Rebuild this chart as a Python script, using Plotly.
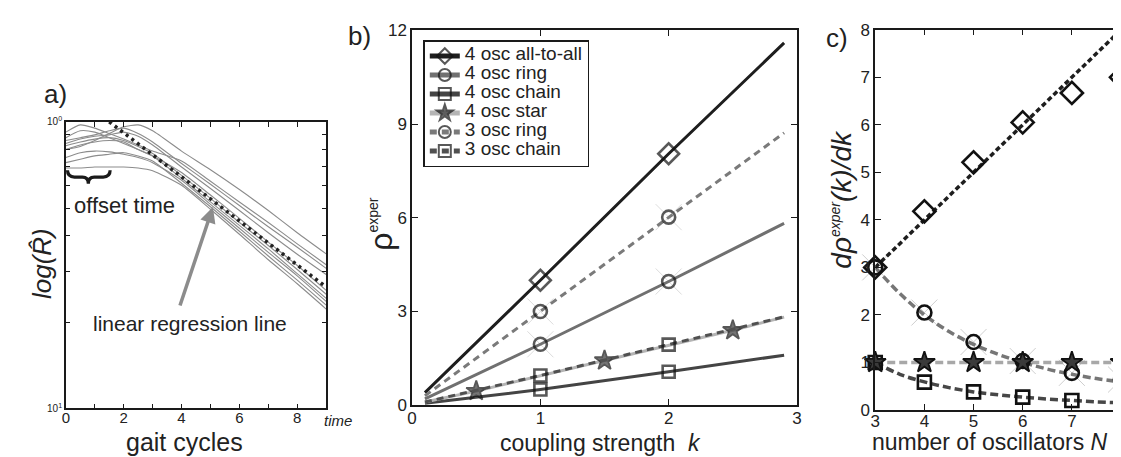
import plotly.graph_objects as go

W, H = 1121, 457
FONT = "Liberation Sans, Arial, sans-serif"
INK = "#1a1a1a"


def px(x):
    return x / W


def py(y):
    return 1 - y / H


# ---------------- panel a: decay of order parameter ----------------
gait_t = [0, 0.5, 1, 1.5, 2, 2.5, 3, 4, 5, 6, 7, 8, 9]
R_1 = [0.80, 0.82, 0.86, 0.91, 0.96, 0.975, 0.93, 0.79, 0.68, 0.58, 0.49, 0.41, 0.346]
R_2 = [0.92, 0.975, 0.95, 0.91, 0.87, 0.83, 0.79, 0.73, 0.62, 0.525, 0.445, 0.375, 0.317]
R_3 = [0.86, 0.88, 0.90, 0.93, 0.95, 0.91, 0.85, 0.715, 0.605, 0.51, 0.43, 0.365, 0.308]
R_4 = [0.84, 0.87, 0.89, 0.90, 0.92, 0.89, 0.83, 0.695, 0.585, 0.49, 0.41, 0.345, 0.293]
R_5 = [0.88, 0.93, 0.92, 0.88, 0.84, 0.80, 0.76, 0.665, 0.555, 0.46, 0.38, 0.315, 0.258]
R_6 = [0.825, 0.85, 0.87, 0.88, 0.86, 0.82, 0.775, 0.65, 0.54, 0.445, 0.37, 0.305, 0.250]
R_7 = [0.80, 0.83, 0.85, 0.86, 0.85, 0.80, 0.76, 0.635, 0.525, 0.435, 0.36, 0.295, 0.242]
R_8 = [0.75, 0.78, 0.79, 0.785, 0.77, 0.75, 0.72, 0.625, 0.515, 0.425, 0.35, 0.29, 0.236]
R_9 = [0.72, 0.74, 0.76, 0.77, 0.78, 0.76, 0.73, 0.61, 0.505, 0.415, 0.34, 0.28, 0.229]
R_10 = [0.69, 0.69, 0.695, 0.695, 0.695, 0.69, 0.675, 0.60, 0.495, 0.405, 0.33, 0.272, 0.222]
R_curves = [R_1, R_2, R_3, R_4, R_5, R_6, R_7, R_8, R_9, R_10]
reg_t = [1.5, 9]
reg_R = [1.0, 0.265]
a_xticks = [0, 1, 2, 3, 4, 5, 6, 7, 8, 9]
a_xlabels = ["0", "", "2", "", "4", "", "6", "", "8", ""]
a_yticks = [0.1, 0.2, 0.3, 0.4, 0.5, 0.6, 0.7, 0.8, 0.9, 1.0]
a_ylabels = ["10<sup>1</sup>", "", "", "", "", "", "", "", "", "10<sup>0</sup>"]

# ---------------- panel b: rho vs coupling strength ----------------
k_aa4 = [0.1, 1, 2, 2.9]
rho_aa4 = [0.4, 4.0, 8.05, 11.6]
k_ring4 = [0.1, 1, 2, 2.9]
rho_ring4 = [0.2, 1.95, 3.96, 5.82]
k_chain4 = [0.1, 1, 2, 2.9]
rho_chain4 = [0.06, 0.5, 1.07, 1.6]
k_star4 = [0.1, 0.5, 1.5, 2.5, 2.9]
rho_star4 = [0.1, 0.45, 1.43, 2.4, 2.82]
k_ring3 = [0.1, 1, 2, 2.9]
rho_ring3 = [0.3, 3.0, 6.02, 8.72]
k_chain3 = [0.1, 1, 2, 2.9]
rho_chain3 = [0.1, 0.95, 1.94, 2.83]
series_names = ["4 osc all-to-all", "4 osc ring", "4 osc chain",
                "4 osc star", "3 osc ring", "3 osc chain"]

# ---------------- panel c: slope vs number of oscillators ----------------
N_osc = [3, 4, 5, 6, 7, 8]
slope_aa = [3.0, 4.18, 5.21, 6.05, 6.67, 7.0]
slope_ring = [3.0, 2.05, 1.43, 1.03, 0.78, 0.64]
slope_star = [1.0, 1.0, 1.0, 1.0, 1.0, 1.0]
slope_chain = [1.0, 0.585, 0.38, 0.27, 0.2, 0.15]
N_theory = [3, 3.5, 4, 4.5, 5, 5.5, 6, 6.5, 7, 7.5, 8]
theory_aa = [3, 3.5, 4, 4.5, 5, 5.5, 6, 6.5, 7, 7.5, 8]
theory_ring = [3.0, 2.45, 2.0, 1.65, 1.38, 1.17, 1.0, 0.86, 0.75, 0.66, 0.59]
theory_star = [1, 1, 1, 1, 1, 1, 1, 1, 1, 1, 1]
theory_chain = [1.0, 0.75, 0.59, 0.47, 0.38, 0.32, 0.27, 0.23, 0.2, 0.17, 0.15]

fig = go.Figure()

# ---- panel a traces
for R in R_curves:
    fig.add_trace(go.Scatter(x=gait_t, y=R, mode="lines", xaxis="x", yaxis="y",
                             line=dict(color="#8c8c8c", width=1.1, shape="spline", smoothing=0.6),
                             showlegend=False, hoverinfo="skip"))
fig.add_trace(go.Scatter(x=reg_t, y=reg_R, mode="lines", xaxis="x", yaxis="y",
                         line=dict(color="#222222", width=3.5, dash="3px,4px"),
                         showlegend=False))

# ---- panel b traces


def inner_sizes(xs, s):
    return [0] + [s] * (len(xs) - 2) + [0]


# light decorative crosses behind ring markers
for ks, rs in [(k_ring4, rho_ring4), (k_ring3, rho_ring3)]:
    fig.add_trace(go.Scatter(x=ks, y=rs, mode="markers", xaxis="x2", yaxis="y2",
                             marker=dict(symbol="x-thin", size=inner_sizes(ks, 26),
                                         line=dict(color="#cfcfcf", width=1)),
                             showlegend=False, hoverinfo="skip"))

b_specs = [
    (k_aa4, rho_aa4, dict(color="#1e1e1e", width=3), "diamond-open", 16),
    (k_ring4, rho_ring4, dict(color="#707070", width=3), "circle-open", 13),
    (k_chain4, rho_chain4, dict(color="#444444", width=3), "square-open", 12),
    (k_star4, rho_star4, dict(color="#b4b4b4", width=3), "star", 15),
    (k_ring3, rho_ring3, dict(color="#7a7a7a", width=3, dash="7px,5px"), "circle-open", 13),
    (k_chain3, rho_chain3, dict(color="#505050", width=3, dash="7px,5px"), "square-open", 12),
]
for name, (ks, rs, ln, sym, sz) in zip(series_names, b_specs):
    if sym == "star":
        mk = dict(symbol=sym, size=inner_sizes(ks, sz), color="#3a3a3a",
                  line=dict(color="#111", width=1.8))
    else:
        mk = dict(symbol=sym, size=inner_sizes(ks, sz), color="#111",
                  line=dict(color="#111", width=2.6))
    fig.add_trace(go.Scatter(x=ks, y=rs, mode="lines+markers",
                             name=f"<span style='font-size:19px'>{name}</span>",
                             xaxis="x2", yaxis="y2", line=ln, marker=mk,
                             cliponaxis=False))

# ---- panel c traces
fig.add_trace(go.Scatter(x=N_osc, y=slope_ring, mode="markers", xaxis="x3", yaxis="y3",
                         marker=dict(symbol="x-thin", size=26, line=dict(color="#cfcfcf", width=1)),
                         showlegend=False, hoverinfo="skip", cliponaxis=False))
fig.add_trace(go.Scatter(x=N_theory, y=theory_star, mode="lines", xaxis="x3", yaxis="y3",
                         line=dict(color="#a8a8a8", width=3.5, dash="8px,4px"),
                         showlegend=False))
fig.add_trace(go.Scatter(x=N_theory, y=theory_ring, mode="lines", xaxis="x3", yaxis="y3",
                         line=dict(color="#767676", width=3.5, dash="8px,4px", shape="spline"),
                         showlegend=False))
fig.add_trace(go.Scatter(x=N_theory, y=theory_chain, mode="lines", xaxis="x3", yaxis="y3",
                         line=dict(color="#474747", width=3.5, dash="8px,4px", shape="spline"),
                         showlegend=False))
fig.add_trace(go.Scatter(x=N_theory, y=theory_aa, mode="lines", xaxis="x3", yaxis="y3",
                         line=dict(color="#1e1e1e", width=3.5, dash="5px,3px"),
                         showlegend=False))
c_markers = [
    (slope_ring, dict(symbol="circle-open", size=14, color="#111", line=dict(color="#111", width=2.6))),
    (slope_chain, dict(symbol="square-open", size=13, color="#111", line=dict(color="#111", width=2.6))),
    (slope_star, dict(symbol="star", size=16, color="#3a3a3a", line=dict(color="#111", width=1.8))),
    (slope_aa, dict(symbol="diamond-open", size=17, color="#111", line=dict(color="#111", width=2.6))),
]
for ys, mk in c_markers:
    fig.add_trace(go.Scatter(x=N_osc, y=ys, mode="markers", xaxis="x3", yaxis="y3",
                             marker=mk, showlegend=False, cliponaxis=False))

axis_common = dict(showline=True, linecolor=INK, linewidth=1.5, mirror="ticks",
                   ticks="inside", tickcolor=INK, tickwidth=1.3, showgrid=False,
                   zeroline=False, tickfont=dict(family=FONT, size=17, color="#222"))

fig.update_layout(
    width=W, height=H,
    margin=dict(l=0, r=0, t=0, b=0),
    paper_bgcolor="white", plot_bgcolor="white",
    font=dict(family=FONT, color="#222"),
    xaxis=dict(axis_common, domain=[px(53.3), px(316)], range=[0, 9], anchor="y",
               tickvals=a_xticks, ticktext=a_xlabels, ticklen=5, ticklabelstandoff=-5,
               tickfont=dict(family=FONT, size=15, color="#222")),
    yaxis=dict(axis_common, domain=[py(408.3), py(109.3)], type="log", range=[-1, 0],
               anchor="x", tickvals=a_yticks, ticktext=a_ylabels, ticklen=4,
               tickfont=dict(family=FONT, size=10, color="#222")),
    xaxis2=dict(axis_common, domain=[px(402.7), px(791)], range=[0, 3], dtick=1,
                anchor="y2", ticklen=6, ticklabelstandoff=-3),
    yaxis2=dict(axis_common, domain=[py(405), py(14)], range=[0, 12], dtick=3,
                anchor="x2", ticklen=6),
    xaxis3=dict(axis_common, domain=[px(870), px(1118)], range=[3, 8], dtick=1,
                anchor="y3", ticklen=6, ticklabelstandoff=-5),
    yaxis3=dict(axis_common, domain=[py(410), py(13.3)], range=[0, 8], dtick=1,
                anchor="x3", ticklen=6),
    legend=dict(x=px(414), y=py(24), xanchor="left", yanchor="top",
                bgcolor="white", bordercolor=INK, borderwidth=1.5,
                font=dict(family=FONT, size=11, color="#222"),
                itemsizing="constant", tracegroupgap=0),
    showlegend=True,
)

ann = []


def text(x, y, s, size, angle=0, **kw):
    ann.append(dict(x=px(x), y=py(y), xref="paper", yref="paper", text=s,
                    showarrow=False, textangle=angle, xanchor="center", yanchor="middle",
                    font=dict(family=FONT, size=size, color="#222"), **kw))


text(43, 80, "a)", 26)
text(350, 20, "b)", 26)
text(831, 22, "c)", 26)
text(112.5, 196.7, "offset time", 22)
text(179, 320, "linear regression line", 21)
text(173, 443, "gait cycles", 25)
text(328, 421, "<i>time</i>", 15)
text(30, 257, "<i>log(R\u0302)</i>", 26, angle=-90)
text(593, 444, "coupling strength  <i>k</i>", 23)
text(371, 216, "\u03c1<sup><span style='font-size:14px'>exper</span></sup>", 32, angle=-90)
text(836, 190, "<i>d\u03c1<sup><span style='font-size:14px'>exper</span></sup>(k)/dk</i>", 28, angle=-90)
text(986, 443, "number of oscillators <i>N</i>", 23)

ann.append(dict(x=px(201.7), y=py(198.3), xref="paper", yref="paper", text="",
                showarrow=True, ax=-33.4, ay=100, arrowhead=2, arrowsize=0.9,
                arrowwidth=3.5, arrowcolor="#8c8c8c", standoff=0))
fig.update_layout(annotations=ann)

# curly brace under the "offset time" interval
pts = [(55, 160), (55, 167), (62, 167), (70, 167), (76, 167), (76, 174),
       (76, 167), (82, 167), (91, 167), (98, 167), (98, 160)]
P = [f"{px(a):.5f},{py(b):.5f}" for a, b in pts]
brace = (f"M {P[0]} Q {P[1]} {P[2]} L {P[3]} Q {P[4]} {P[5]} "
         f"Q {P[6]} {P[7]} L {P[8]} Q {P[9]} {P[10]}")
fig.add_shape(type="path", path=brace, xref="paper", yref="paper",
              line=dict(color=INK, width=3.2))

fig.write_html("out.html")
